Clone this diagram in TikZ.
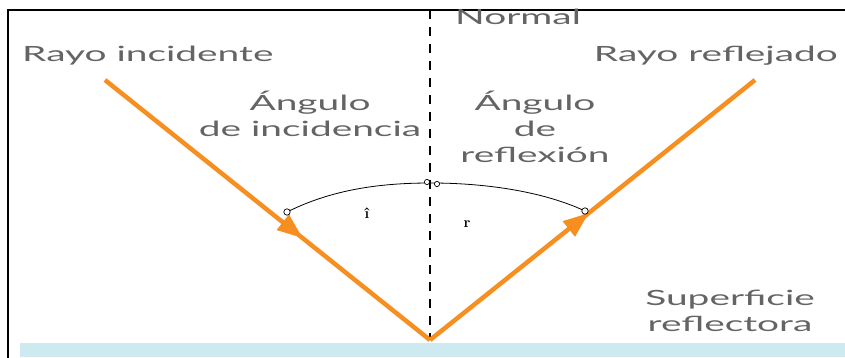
\documentclass[tikz,border=0pt]{standalone}
\usepackage{fontspec}
\setsansfont{Lato}
\usepackage{graphicx}
\usepackage{tikz}
\usetikzlibrary{decorations.markings}

\definecolor{rayorange}{RGB}{247,142,32}
\definecolor{mirrorblue}{RGB}{205,234,240}
\definecolor{labelgray}{RGB}{100,100,100}

% wide label text, stretched sideways like the printed lettering
\newcommand{\widetext}[1]{\scalebox{1.85}[1]{\begin{tabular}{@{}c@{}}#1\end{tabular}}}

\begin{document}
\begin{tikzpicture}[x=1pt, y=-1pt]

% label and ray styles
\tikzset{
    lbl/.style={font=\sffamily\fontsize{21}{26}\selectfont, text=labelgray, inner sep=0pt},
    ray/.style={draw=rayorange, line width=4.5pt},
    midarrow/.style={postaction={decorate, decoration={markings,
        mark=at position #1 with {\fill[rayorange] (3,0) -- (-22,10) -- (-22,-10) -- cycle;}}}},
    tick/.style={draw=black, line width=0.7pt, fill=white},
    sym/.style={font=\bfseries\fontsize{15}{17}\selectfont, inner sep=0pt},
}

\useasboundingbox (0,0) rectangle (845,358);

% --- Frame and reflecting surface ---
\fill[mirrorblue] (20,343) rectangle (845,357);
\draw[line width=1.6pt] (8,358) -- (8,10) -- (845,10);

% --- Points ---
\coordinate (apex) at (430,340);
\coordinate (inc) at (105,80);
\coordinate (refl) at (755,80);
\coordinate (ntop) at (430,10);
\coordinate (arcL) at (287,212);
\coordinate (arcT) at (431,183);
\coordinate (arcR) at (585,211);

% --- Normal ---
\draw[line width=2.2pt, dash pattern=on 9pt off 8pt] (ntop) -- (apex);

% --- Rays ---
\draw[ray, midarrow=0.6] (inc) -- (apex);
\draw[ray, midarrow=0.48] (apex) -- (refl);

% --- Angle arc ---
\draw[line width=0.8pt] (arcL) .. controls (335,188) and (385,183) .. (arcT)
    .. controls (480,183) and (540,190) .. (arcR);
\draw[tick] (arcL) circle (3.2);
\draw[tick] (arcR) circle (3.2);
\draw[tick] (427,182) circle (2.6);
\draw[tick] (437,184) circle (2.6);

% --- Labels ---
\node[lbl, anchor=west] (lblinc) at (22,56) {\widetext{Rayo incidente}};
\node[lbl, anchor=east] (lblrefl) at (838,56) {\widetext{Rayo reflejado}};
\node[lbl, anchor=west] (lblnorm) at (455,19) {\widetext{Normal}};
\node[lbl] (lblangi) at (310,118) {\widetext{Ángulo\\de incidencia}};
\node[lbl] (lblangr) at (535,131) {\widetext{Ángulo\\de\\reflexión}};
\node[lbl] (lblsurf) at (730,313) {\widetext{Superficie\\reflectora}};

\node[sym] (hati) at (367,213) {\^{\i}};
\node[sym] (symr) at (467,224) {r};

\end{tikzpicture}
\end{document}
